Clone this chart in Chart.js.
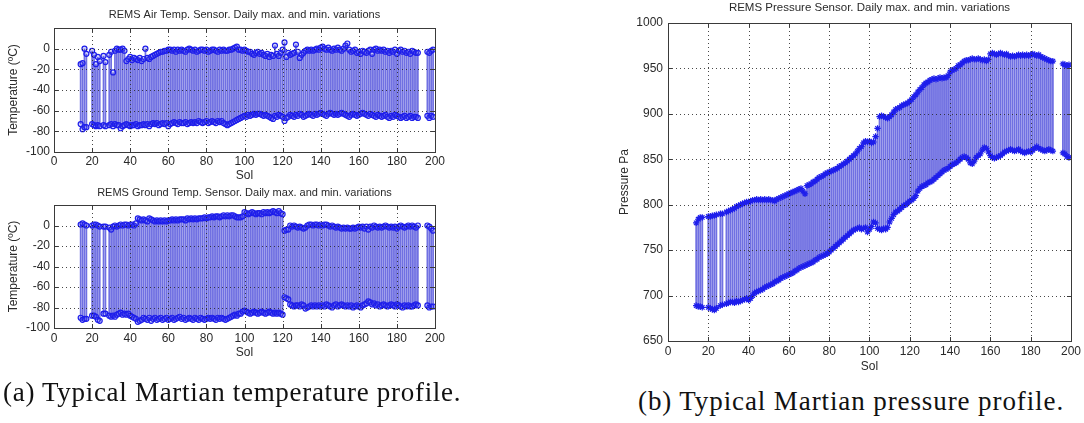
<!DOCTYPE html>
<html>
<head>
<meta charset="utf-8">
<script src="https://cdn.jsdelivr.net/npm/chart.js@4.4.1/dist/chart.umd.min.js"></script>
<style>
	html, body { margin: 0; padding: 0; background: #fff; width: 1084px; height: 423px; overflow: hidden; }
	.box { position: absolute; }
	.cap { position: absolute; font-family: 'Liberation Serif', 'DejaVu Serif', serif; font-size: 27px; letter-spacing: 0.7px; color: #111; white-space: nowrap; }
</style>
</head>
<body>
<div class="box" style="left:0;top:0;width:450px;height:185px"><canvas id="air"></canvas></div>
<div class="box" style="left:0;top:180px;width:450px;height:185px"><canvas id="ground"></canvas></div>
<div class="box" style="left:580px;top:0;width:504px;height:385px"><canvas id="press"></canvas></div>
<div class="cap" style="left:3px;top:377px">(a) Typical Martian temperature profile.</div>
<div class="cap" style="left:638px;top:386px;letter-spacing:0.9px">(b) Typical Martian pressure profile.</div>
<script>
// Mars REMS daily max/min, one value per sol
const SOLS = [
	14, 15, 16, 17, 20, 21, 22, 23, 24, 26,
	27, 29, 30, 31, 32, 33, 34, 35, 36, 37,
	38, 39, 40, 41, 42, 43, 44, 45, 46, 47,
	48, 49, 50, 51, 52, 53, 54, 55, 56, 57,
	58, 59, 60, 61, 62, 63, 64, 65, 66, 67,
	68, 69, 70, 71, 72, 73, 74, 75, 76, 77,
	78, 79, 80, 81, 82, 83, 84, 85, 86, 87,
	88, 89, 90, 91, 92, 93, 94, 95, 96, 97,
	98, 99, 100, 101, 102, 103, 104, 105, 106, 107,
	108, 109, 110, 111, 112, 113, 114, 115, 116, 117,
	118, 119, 120, 121, 122, 123, 124, 125, 126, 127,
	128, 129, 130, 131, 132, 133, 134, 135, 136, 137,
	138, 139, 140, 141, 142, 143, 144, 145, 146, 147,
	148, 149, 150, 151, 152, 153, 154, 155, 156, 157,
	158, 159, 160, 161, 162, 163, 164, 165, 166, 167,
	168, 169, 170, 171, 172, 173, 174, 175, 176, 177,
	178, 179, 180, 181, 182, 183, 184, 185, 186, 187,
	188, 189, 190, 191, 196, 197, 198, 199,
];

const AIR_MAX = [
	-15, -14, 0, -5, -2, -6, -15, -8, -12, -7,
	-13, -6, -3, -23, -2, 0, -1, -1, 0, -2,
	-12, -10, -8, -11, -9, -10, -11, -9, -12, -10,
	0, -9, -10, -8, -7, -6, -5, -4, -3, -3,
	-2, -2, -1, -1, -2, -1, -3, -1, -2, -1,
	-2, -3, -1, 0, -1, -2, -1, -3, -2, -1,
	-1, -2, -1, -3, -2, -1, -1, -2, -3, -1,
	-2, -1, -2, -2, -1, -1, 0, 1, 2, -1,
	-1, -2, -1, -2, -3, -3, -5, -6, -4, -3,
	-5, -4, -6, -7, -5, -8, -6, -7, 3, -5,
	-7, -4, -1, 6, -8, -4, -6, -5, -4, 4,
	-3, -9, -6, -4, -2, -1, -2, -1, -2, -1,
	0, -1, 1, 2, 0, -1, 1, -1, -2, 0,
	-1, 1, -1, -2, 0, 3, 5, -1, -3, -2,
	-1, -4, -3, -5, -2, -3, -4, -2, -1, -5,
	-1, 0, -2, -1, -2, -1, -3, -2, -4, -2,
	-3, -1, -5, -2, -1, -3, -2, -4, -3, -5,
	-2, -3, -4, -4, -3, -4, -2, -1,
];
const AIR_MIN = [
	-73, -78, -76, -76, -73, -74, -75, -74, -75, -74,
	-75, -74, -73, -75, -73, -74, -74, -77, -75, -74,
	-73, -74, -75, -74, -74, -73, -75, -74, -74, -73,
	-74, -73, -75, -73, -72, -73, -72, -74, -73, -72,
	-73, -72, -75, -73, -72, -71, -72, -73, -71, -72,
	-72, -71, -73, -72, -71, -72, -71, -72, -70, -71,
	-72, -71, -70, -72, -71, -70, -71, -72, -70, -71,
	-70, -72, -73, -74, -73, -72, -71, -70, -69, -68,
	-67, -66, -65, -66, -64, -65, -64, -63, -64, -63,
	-63, -64, -65, -64, -65, -66, -67, -68, -65, -66,
	-64, -65, -66, -70, -67, -66, -64, -65, -66, -64,
	-65, -63, -64, -66, -65, -64, -63, -64, -65, -63,
	-64, -63, -62, -63, -64, -65, -63, -62, -63, -64,
	-63, -64, -63, -62, -63, -64, -65, -66, -64, -63,
	-64, -65, -64, -63, -62, -63, -64, -65, -63, -64,
	-65, -66, -64, -65, -66, -65, -64, -66, -67, -65,
	-66, -64, -65, -66, -67, -66, -65, -67, -66, -65,
	-67, -66, -66, -67, -65, -67, -65, -66,
];

const GND_MAX = [
	1, 2, 1, 0, 0, 1, 1, 0, -1, -1,
	-1, -2, -4, -1, 0, -1, 0, 1, 0, 1,
	1, 0, 1, 1, 0, 2, 7, 6, 5, 6,
	5, 4, 7, 6, 5, 4, 5, 4, 5, 4,
	5, 4, 5, 5, 6, 5, 6, 5, 6, 6,
	6, 5, 7, 6, 7, 6, 7, 6, 7, 7,
	7, 8, 7, 8, 8, 9, 8, 9, 9, 8,
	9, 10, 9, 10, 9, 10, 10, 9, 8, 8,
	8, 9, 13, 12, 11, 12, 13, 12, 11, 12,
	12, 11, 13, 12, 13, 12, 13, 14, 13, 12,
	14, 12, 11, -5, -4, -4, 0, -1, 0, -1,
	-2, -1, -2, -3, -2, 0, 1, 1, 0, 1,
	1, 0, 1, 0, 1, 1, 0, -1, 0, -1,
	-2, -1, -2, -3, -2, -3, -2, -3, -3, -2,
	-3, -2, -1, -2, -1, -3, -1, -4, -1, -2,
	0, -1, -2, -1, -2, -1, 0, -1, -2, -1,
	-2, -1, -3, -1, 0, -1, -2, -1, 0, -1,
	0, -1, -2, 0, 0, -1, -3, -5,
];
const GND_MIN = [
	-90, -92, -91, -91, -88, -88, -89, -92, -93, -86,
	-86, -88, -89, -88, -89, -87, -86, -85, -87, -86,
	-87, -86, -88, -89, -90, -91, -94, -93, -92, -90,
	-91, -92, -90, -93, -91, -90, -92, -91, -90, -92,
	-91, -90, -92, -91, -90, -92, -91, -90, -89, -91,
	-90, -92, -91, -90, -91, -92, -90, -91, -92, -90,
	-91, -92, -91, -90, -91, -90, -91, -92, -90, -91,
	-90, -91, -92, -91, -90, -89, -88, -87, -88, -86,
	-86, -84, -83, -84, -85, -86, -85, -84, -85, -86,
	-85, -84, -85, -86, -85, -84, -85, -86, -85, -86,
	-85, -86, -87, -70, -71, -72, -77, -78, -79, -78,
	-78, -79, -77, -78, -81, -80, -79, -78, -79, -78,
	-79, -78, -79, -78, -79, -77, -78, -79, -80, -78,
	-77, -79, -78, -77, -78, -79, -78, -79, -78, -80,
	-79, -78, -79, -80, -78, -77, -76, -74, -75, -77,
	-76, -78, -77, -79, -78, -77, -78, -79, -78, -77,
	-78, -79, -77, -78, -79, -80, -78, -79, -78, -79,
	-79, -78, -77, -78, -78, -80, -79, -79,
];

const P_MAX = [
	780, 784, 786, 786, 787, 787, 788, 788, 789, 790,
	790, 792, 793, 794, 795, 796, 798, 799, 800, 801,
	802, 803, 803, 804, 805, 805, 806, 805, 806, 805,
	806, 805, 806, 805, 805, 804, 806, 807, 808, 809,
	810, 811, 812, 813, 814, 815, 816, 817, 818, 815,
	812, 821, 822, 823, 825, 826, 828, 830, 831, 832,
	834, 835, 836, 837, 838, 839, 840, 842, 843, 845,
	846, 848, 850, 852, 854, 856, 859, 862, 864, 868,
	870, 869, 870, 868, 869, 875, 884, 897, 898, 897,
	896, 895, 897, 899, 902, 905, 906, 907, 909, 910,
	911, 912, 914, 916, 919, 921, 924, 927, 929, 932,
	934, 935, 937, 938, 939, 938, 939, 940, 939, 940,
	940, 942, 946, 948, 949, 950, 953, 954, 956, 958,
	959, 959, 960, 961, 960, 960, 961, 960, 959, 960,
	958, 960, 966, 967, 966, 965, 966, 967, 966, 965,
	966, 964, 963, 964, 963, 964, 965, 964, 965, 964,
	965, 964, 965, 966, 965, 964, 965, 963, 962, 961,
	960, 959, 958, 958, 955, 954, 953, 954,
];
const P_MIN = [
	689, 688, 688, 687, 687, 686, 685, 684, 686, 689,
	690, 691, 692, 693, 693, 692, 694, 693, 694, 695,
	696, 697, 695, 697, 700, 703, 704, 705, 706, 707,
	709, 710, 711, 712, 713, 715, 716, 717, 719, 720,
	721, 722, 723, 724, 725, 727, 728, 730, 731, 732,
	733, 734, 735, 736, 737, 739, 740, 742, 743, 744,
	745, 746, 748, 750, 752, 754, 756, 758, 760, 762,
	764, 766, 768, 770, 772, 773, 774, 775, 773, 774,
	775, 770, 773, 776, 781, 780, 774, 773, 772, 774,
	773, 775, 781, 785, 789, 792, 793, 795, 797, 799,
	800, 802, 804, 805, 807, 810, 815, 818, 820, 821,
	822, 824, 825, 826, 828, 830, 832, 834, 836, 838,
	839, 840, 842, 844, 845, 846, 848, 850, 852, 853,
	852, 850, 846, 845, 848, 852, 854, 856, 860, 863,
	862, 858, 854, 852, 851, 852, 853, 854, 856, 858,
	859, 860, 861, 860, 859, 860, 861, 859, 858, 857,
	858, 859, 858, 860, 862, 864, 862, 861, 860, 859,
	860, 861, 860, 859, 857, 856, 853, 852,
];

const X_TICKS = [0, 20, 40, 60, 80, 100, 120, 140, 160, 180, 200];

const STEM = 'rgb(112,112,226)';
const MARK = 'rgb(30,30,235)';
const TXT = '#2a2a2a';
const AXIS = '#3a3a3a';
const GRID = 'rgba(40,40,40,0.85)';

Chart.defaults.font.family = "'Liberation Sans', Arial, sans-serif";
Chart.defaults.color = TXT;

const stems = (lo, hi) => SOLS.map((s, i) => ({ x: s, y: [lo[i], hi[i]] }));
const pts = v => SOLS.map((s, i) => ({ x: s, y: v[i] }));

// matlab-ish axes: dotted grid over the stems, solid frame, inward ticks, title centred on the axes
const axBox = {
	id: 'axBox',
	afterDatasetsDraw(chart) {
		const { ctx, chartArea: a, scales } = chart;
		ctx.save();
		ctx.strokeStyle = GRID;
		ctx.lineWidth = 1;
		ctx.setLineDash([1, 3]);
		ctx.beginPath();
		X_TICKS.forEach(v => {
			const px = Math.round(scales.x.getPixelForValue(v)) + 0.5;
			ctx.moveTo(px, a.top); ctx.lineTo(px, a.bottom);
		});
		scales.y.ticks.forEach(t => {
			const py = Math.round(scales.y.getPixelForValue(t.value)) + 0.5;
			ctx.moveTo(a.left, py); ctx.lineTo(a.right, py);
		});
		ctx.stroke();
		ctx.restore();
	},
	afterDraw(chart, args, opts) {
		const { ctx, chartArea: a, scales } = chart;
		ctx.save();
		ctx.strokeStyle = AXIS;
		ctx.lineWidth = 1;
		ctx.strokeRect(Math.round(a.left) + 0.5, Math.round(a.top) + 0.5, Math.round(a.width), Math.round(a.height));
		ctx.beginPath();
		X_TICKS.forEach(v => {
			const px = Math.round(scales.x.getPixelForValue(v)) + 0.5;
			ctx.moveTo(px, a.bottom); ctx.lineTo(px, a.bottom - 4);
			ctx.moveTo(px, a.top); ctx.lineTo(px, a.top + 4);
		});
		scales.y.ticks.forEach(t => {
			const py = Math.round(scales.y.getPixelForValue(t.value)) + 0.5;
			ctx.moveTo(a.left, py); ctx.lineTo(a.left + 4, py);
			ctx.moveTo(a.right, py); ctx.lineTo(a.right - 4, py);
		});
		ctx.stroke();
		ctx.fillStyle = TXT;
		ctx.font = opts.size + "px 'Liberation Sans', Arial, sans-serif";
		ctx.textAlign = 'center';
		ctx.textBaseline = 'middle';
		ctx.fillText(opts.text, (a.left + a.right) / 2, opts.y);
		ctx.restore();
	},
};

function makeChart(id, o) {
	const marker = (data) => ({
		type: 'scatter', data, order: 1,
		pointStyle: o.marker, pointRadius: o.r, pointBorderWidth: o.bw,
		pointBorderColor: MARK, pointBackgroundColor: o.fill,
	});
	return new Chart(document.getElementById(id), {
		type: 'bar',
		data: {
			datasets: [
				{
					type: 'bar', data: stems(o.lo, o.hi), order: 2,
					backgroundColor: STEM, borderWidth: 0,
					barPercentage: 0.92, categoryPercentage: 1,
				},
				marker(pts(o.hi)),
				marker(pts(o.lo)),
			],
		},
		options: {
			responsive: true, maintainAspectRatio: false, animation: false,
			layout: { padding: { top: o.top, right: o.right, left: 0, bottom: 0 } },
			plugins: {
				legend: { display: false }, tooltip: { enabled: false },
				axBox: { text: o.title, y: o.titleY, size: o.titleSize },
			},
			scales: {
				x: {
					type: 'linear', min: 0, max: 200, offset: false,
					afterBuildTicks(s) { s.ticks = X_TICKS.map(v => ({ value: v })); },
					ticks: { padding: o.xPad, font: { size: o.tickSize }, maxRotation: 0, autoSkip: false },
					grid: { display: false, drawTicks: false, offset: false },
					border: { display: false },
					title: { display: true, text: 'Sol', font: { size: 12 }, padding: { top: 0, bottom: o.solPad } },
					afterFit(s) { s.height = o.xh; },
				},
				y: {
					min: o.ymin, max: o.ymax,
					ticks: {
						stepSize: o.step, padding: o.yPad, font: { size: o.tickSize },
						callback: v => (v > o.ylast ? '' : v),
					},
					grid: { display: false, drawTicks: false },
					border: { display: false },
					title: { display: true, text: o.ylabel, font: { size: 12 }, padding: { top: o.ylabPad, bottom: 0 } },
					afterFit(s) { s.width = o.yw; },
				},
			},
		},
		plugins: [axBox],
	});
}

makeChart('air', {
	lo: AIR_MIN, hi: AIR_MAX, marker: 'circle', r: 2.5, bw: 1.2, fill: 'rgba(90,90,230,0.25)',
	title: 'REMS Air Temp. Sensor. Daily max. and min. variations', titleY: 15, titleSize: 11,
	top: 28, right: 15, xh: 33, yw: 54, xPad: 2, yPad: 4, solPad: 2, ylabPad: 6,
	ymin: -100, ymax: 20, step: 20, ylast: 0, tickSize: 12, ylabel: 'Temperature (ºC)',
});

makeChart('ground', {
	lo: GND_MIN, hi: GND_MAX, marker: 'circle', r: 2.5, bw: 1.2, fill: 'rgba(90,90,230,0.25)',
	title: 'REMS Ground Temp. Sensor. Daily max. and min. variations', titleY: 13, titleSize: 11,
	top: 25, right: 15, xh: 37, yw: 54, xPad: 3, yPad: 4, solPad: 5, ylabPad: 6,
	ymin: -100, ymax: 20, step: 20, ylast: 0, tickSize: 12, ylabel: 'Temperature (ºC)',
});

makeChart('press', {
	lo: P_MIN, hi: P_MAX, marker: 'star', r: 3.2, bw: 1.2, fill: 'rgba(0,0,0,0)',
	title: 'REMS Pressure Sensor. Daily max. and min. variations', titleY: 8, titleSize: 11.5,
	top: 23, right: 11, xh: 44, yw: 88, xPad: 3, yPad: 5, solPad: 11, ylabPad: 37,
	ymin: 650, ymax: 1000, step: 50, ylast: 1000, tickSize: 12, ylabel: 'Pressure Pa',
});
</script>
</body>
</html>
